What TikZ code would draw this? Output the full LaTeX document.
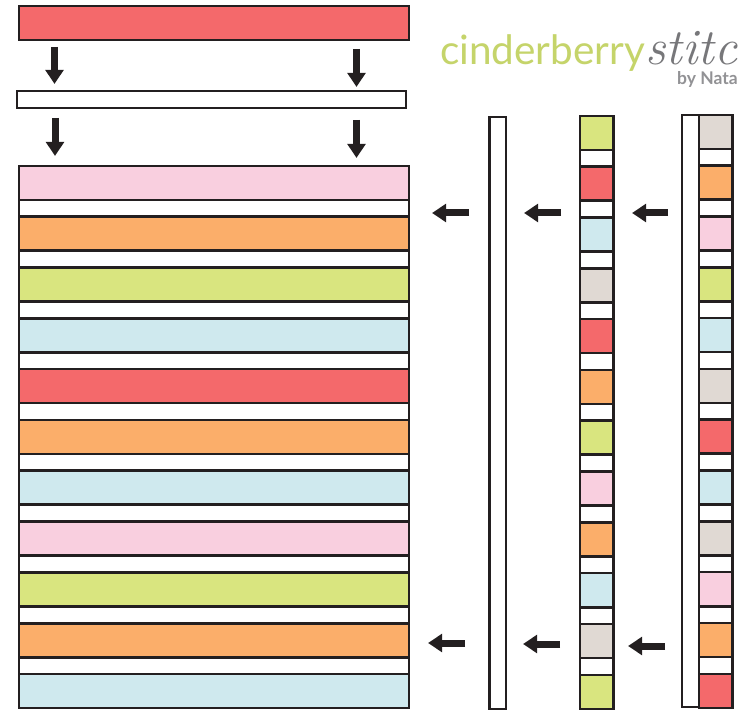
\documentclass[tikz,border=0pt]{standalone}
\usepackage{fontspec}
\setsansfont{Lato}
\usetikzlibrary{arrows.meta}
\definecolor{cred}{HTML}{F4696B}
\definecolor{cpink}{HTML}{F9CFDF}
\definecolor{corange}{HTML}{FBAE6A}
\definecolor{cgreen}{HTML}{D9E57F}
\definecolor{cblue}{HTML}{CFE9EE}
\definecolor{cgrey}{HTML}{E0D9D3}
\definecolor{cline}{HTML}{231F20}
\definecolor{clogo}{HTML}{C5D46A}
\definecolor{cscript}{HTML}{77777A}
\tikzset{
  patch/.style={draw=cline,line width=2.6pt,inner sep=0pt,outer sep=0pt,anchor=north west},
  bandpatch/.style={patch,minimum width=390pt,minimum height=34pt},
  gapband/.style={patch,fill=white,minimum width=390pt,minimum height=17pt},
  squarepatch/.style={patch,minimum width=33.5pt,minimum height=34pt},
  gapsquare/.style={patch,fill=white,minimum width=33.5pt,minimum height=17pt},
  bigarrow/.style={draw=cline,line width=7pt,-{Triangle[length=14pt,width=17.5pt]},shorten >=0pt}
}
\begin{document}
\begin{tikzpicture}[x=1pt,y=-1pt]
\useasboundingbox (0,0) rectangle (740,711);
\fill[white] (0,0) rectangle (740,711);
% logo
\node[anchor=base west,inner sep=0pt,text=clogo,font=\sffamily\fontsize{40.5}{40.5}\selectfont] (logoa) at (440,65) {cinderberry};
\node[anchor=base west,inner sep=0pt,text=cscript,font=\itshape\fontsize{51}{51}\selectfont] (logob) at (645,65) {stitc};
\node[anchor=base west,inner sep=0pt,text=cscript!80,font=\sffamily\bfseries\fontsize{17.5}{17.5}\selectfont] (logoc) at (677,85) {by Nata};
% top strips
\node[bandpatch,fill=cred] (topred) at (19,6) {};
\node[patch,fill=white,minimum width=389pt,minimum height=17pt] (topwhite) at (17,91) {};
% main quilt
\foreach \c [count=\i from 0] in {cpink,corange,cgreen,cblue,cred,corange,cblue,cpink,cgreen,corange,cblue}{
  \pgfmathsetmacro{\yy}{166+50.8*\i}
  \node[bandpatch,fill=\c] (main\i) at (19,\yy) {};
  \ifnum\i<10
    \pgfmathsetmacro{\yg}{\yy+34}
    \node[gapband] (maingap\i) at (19,\yg) {};
  \fi
}
% long strip
\node[patch,fill=white,minimum width=16.5pt,minimum height=592pt] (strip) at (489.5,117) {};
% middle column
\foreach \c [count=\i from 0] in {cgreen,cred,cblue,cgrey,cred,corange,cgreen,cpink,corange,cblue,cgrey,cgreen}{
  \pgfmathsetmacro{\yy}{116+50.8*\i}
  \node[squarepatch,fill=\c] (mid\i) at (580,\yy) {};
  \ifnum\i<11
    \pgfmathsetmacro{\yg}{\yy+34}
    \node[gapsquare] (midgap\i) at (580,\yg) {};
  \fi
}
% right column
\node[patch,fill=white,minimum width=17pt,minimum height=592pt] (rightstrip) at (682,115) {};
\foreach \c [count=\i from 0] in {cgrey,corange,cpink,cgreen,cblue,cgrey,cred,cblue,cgrey,cpink,corange,cred}{
  \pgfmathsetmacro{\yy}{115+50.8*\i}
  \node[squarepatch,fill=\c] (right\i) at (699,\yy) {};
  \ifnum\i<11
    \pgfmathsetmacro{\yg}{\yy+34}
    \node[gapsquare] (rightgap\i) at (699,\yg) {};
  \fi
}
% arrow ends
\foreach \n/\xa/\ya/\xb/\yb in {
  a/54.5/47/54.5/84, b/356.5/49/356.5/87, c/55/118/55/156, d/356.5/120/356.5/158,
  e/469/213/432/213, f/561/213/524/213, g/668/213/632/213,
  h/465/643/428/643, i/560/644/523/644, j/665/646/628/646}{
  \coordinate (s\n) at (\xa,\ya);
  \coordinate (t\n) at (\xb,\yb);
  \draw[bigarrow] (s\n) -- (t\n);
}
\end{tikzpicture}
\end{document}
